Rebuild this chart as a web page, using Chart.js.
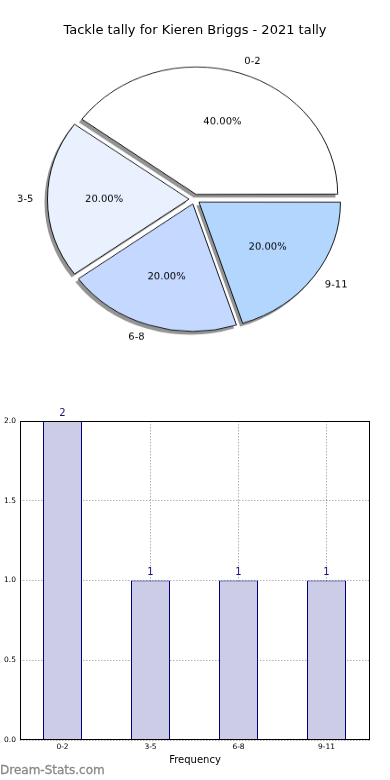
<!DOCTYPE html>
<html><head><meta charset="utf-8">
<script src="https://cdn.jsdelivr.net/npm/chart.js@4.4.1/dist/chart.umd.min.js"></script>
<style>
html,body{margin:0;padding:0;background:#fff;}
#page{position:relative;width:390px;height:780px;overflow:hidden;font-family:"DejaVu Sans",sans-serif;}
#title{position:absolute;left:0;top:21px;width:390px;text-align:center;font-size:13px;line-height:18px;color:#000;}
#pieWrap{position:absolute;left:0;top:0;width:390px;height:442px;transform:scaleY(0.901);transform-origin:0 0;}
#barWrap{position:absolute;left:0;top:400px;width:390px;height:380px;}
#mark{position:absolute;left:0;top:762px;font-size:12px;line-height:16px;color:#888;font-weight:normal;-webkit-text-stroke:0.3px #888;}
</style></head>
<body>
<div id="page">
  <div id="pieWrap"><canvas id="pie" width="390" height="442" style="width:390px;height:442px"></canvas></div>
  <div id="title"></div>
  <div id="barWrap"><canvas id="bar" width="390" height="380" style="width:390px;height:380px"></canvas></div>
  <div id="mark">Dream-Stats.com</div>
</div>
<script>
const categories = ['0-2', '3-5', '6-8', '9-11'];
const tallies = [2, 1, 1, 1];
const sliceColors = ['#ffffff', '#eaf1fe', '#c5d8ff', '#b3d6ff'];
const yTickValues = [0, 0.5, 1, 1.5, 2];
const chartTitle = 'Tackle tally for Kieren Briggs - 2021 tally';
const xAxisTitle = 'Frequency';

document.getElementById('title').textContent = chartTitle;

const SY = 0.901;
const FONT = '"DejaVu Sans", sans-serif';
const total = tallies.reduce((a, b) => a + b, 0);
const order = categories.map((_, i) => i).reverse();

function drawText(ctx, text, x, y, align, size, color) {
  ctx.save();
  ctx.translate(x, y);
  ctx.scale(1, 1 / SY);
  ctx.font = size + 'px ' + FONT;
  ctx.fillStyle = color;
  ctx.textAlign = align;
  ctx.textBaseline = 'middle';
  ctx.fillText(text, 0, 0);
  ctx.restore();
}

const piePlugin = {
  id: 'pieDeco',
  beforeDatasetsDraw(chart) {
    const meta = chart.getDatasetMeta(0);
    const R = meta.controller.outerRadius;
    const ctx = chart.ctx;
    meta.data.forEach(arc => {
      const circ = arc.endAngle - arc.startAngle;
      const fix = 1 - Math.sin(Math.min(Math.PI, circ));
      arc.outerRadius = R - (arc.options.offset / 4) * fix;
    });
    // shadows under all wedges
    meta.data.forEach(arc => {
      const mid = (arc.startAngle + arc.endAngle) / 2;
      const off = arc.options.offset / 4;
      ctx.save();
      ctx.translate(Math.cos(mid) * off - 2.6, Math.sin(mid) * off + 3.4);
      ctx.beginPath();
      ctx.moveTo(arc.x, arc.y);
      ctx.arc(arc.x, arc.y, R + 0.4, arc.startAngle, arc.endAngle);
      ctx.closePath();
      ctx.fillStyle = 'rgba(0,0,0,0.42)';
      ctx.fill();
      ctx.restore();
    });
  },
  afterDatasetsDraw(chart) {
    const ctx = chart.ctx;
    const meta = chart.getDatasetMeta(0);
    const R = meta.controller.outerRadius;
    meta.data.forEach((arc, j) => {
      const i = order[j];
      const mid = (arc.startAngle + arc.endAngle) / 2;
      const off = arc.options.offset / 4;
      const c = Math.cos(mid), s = Math.sin(mid);
      const cx = arc.x + c * off, cy = arc.y + s * off;
      drawText(ctx, categories[i], cx + c * R * 1.1, cy + s * R * 1.1, c > 0.001 ? 'left' : (c < -0.001 ? 'right' : 'center'), 10, '#000');
      drawText(ctx, (tallies[i] / total * 100).toFixed(2) + '%', cx + c * R * 0.6, cy + s * R * 0.6, 'center', 10, '#000');
    });
  }
};

new Chart(document.getElementById('pie'), {
  type: 'pie',
  data: {
    labels: order.map(i => categories[i]),
    datasets: [{
      data: order.map(i => tallies[i]),
      backgroundColor: order.map(i => sliceColors[i]),
      borderColor: '#000',
      borderWidth: 0.9,
      offset: 22
    }]
  },
  options: {
    responsive: false,
    animation: false,
    events: [],
    rotation: 90,
    radius: 141.5,
    layout: { padding: { left: 0, right: 1, top: 0, bottom: 0 } },
    plugins: { legend: { display: false }, tooltip: { enabled: false }, title: { display: false } }
  },
  plugins: [piePlugin]
});

const barPlugin = {
  id: 'barDeco',
  afterDatasetsDraw(chart) {
    const ctx = chart.ctx;
    const meta = chart.getDatasetMeta(0);
    ctx.save();
    ctx.font = '10px ' + FONT;
    ctx.fillStyle = '#14147a';
    ctx.textAlign = 'center';
    ctx.textBaseline = 'bottom';
    meta.data.forEach((bar, i) => {
      ctx.fillText(String(tallies[i]), bar.x, bar.y - 3);
    });
    ctx.restore();
  },
  afterDraw(chart) {
    const a = chart.chartArea;
    const ctx = chart.ctx;
    ctx.save();
    ctx.strokeStyle = '#000';
    ctx.lineWidth = 1;
    ctx.strokeRect(Math.round(a.left) + 0.5, Math.round(a.top) + 0.5, Math.round(a.right - a.left) - 1, Math.round(a.bottom - a.top) - 1);
    ctx.restore();
  }
};

new Chart(document.getElementById('bar'), {
  type: 'bar',
  data: {
    datasets: [{
      data: tallies.map((v, i) => ({ x: i, y: v })),
      backgroundColor: '#ccccE6',
      borderColor: '#000080',
      borderWidth: 1,
      inflateAmount: 0,
      barPercentage: 39 / 88,
      categoryPercentage: 1
    }]
  },
  options: {
    responsive: false,
    animation: false,
    events: [],
    layout: { padding: { top: 21, right: 20, bottom: 10, left: 0 } },
    plugins: { legend: { display: false }, tooltip: { enabled: false } },
    scales: {
      x: {
        type: 'linear',
        min: -42.5 / 88,
        max: 3 + 43.5 / 88,
        offset: false,
        z: 1,
        afterBuildTicks: s => { s.ticks = categories.map((_, i) => ({ value: i })); },
        afterFit: s => { s.height = 30; },
        grid: { offset: false, drawTicks: false, color: 'rgba(0,0,0,0.3)', lineWidth: 1, borderDash: [1.5, 1.5] },
        border: { display: false, dash: [1.5, 1.5] },
        ticks: {
          padding: 3,
          autoSkip: false,
          maxRotation: 0,
          font: { family: FONT, size: 7.5 },
          color: '#000',
          callback: v => (categories[v] !== undefined ? categories[v] : '')
        },
        title: { display: true, text: xAxisTitle, font: { family: FONT, size: 10 }, color: '#000', padding: { top: 0, bottom: 4 } }
      },
      y: {
        min: yTickValues[0],
        max: yTickValues[yTickValues.length - 1],
        z: 1,
        afterBuildTicks: s => { s.ticks = yTickValues.map(v => ({ value: v })); },
        afterFit: s => { s.width = 20; },
        grid: { drawTicks: false, color: 'rgba(0,0,0,0.3)', lineWidth: 1, borderDash: [1.5, 1.5] },
        border: { display: false, dash: [1.5, 1.5] },
        ticks: {
          padding: 4,
          font: { family: FONT, size: 7.5 },
          color: '#000',
          callback: v => Number(v).toFixed(1)
        }
      }
    }
  },
  plugins: [barPlugin]
});
</script>
</body></html>
